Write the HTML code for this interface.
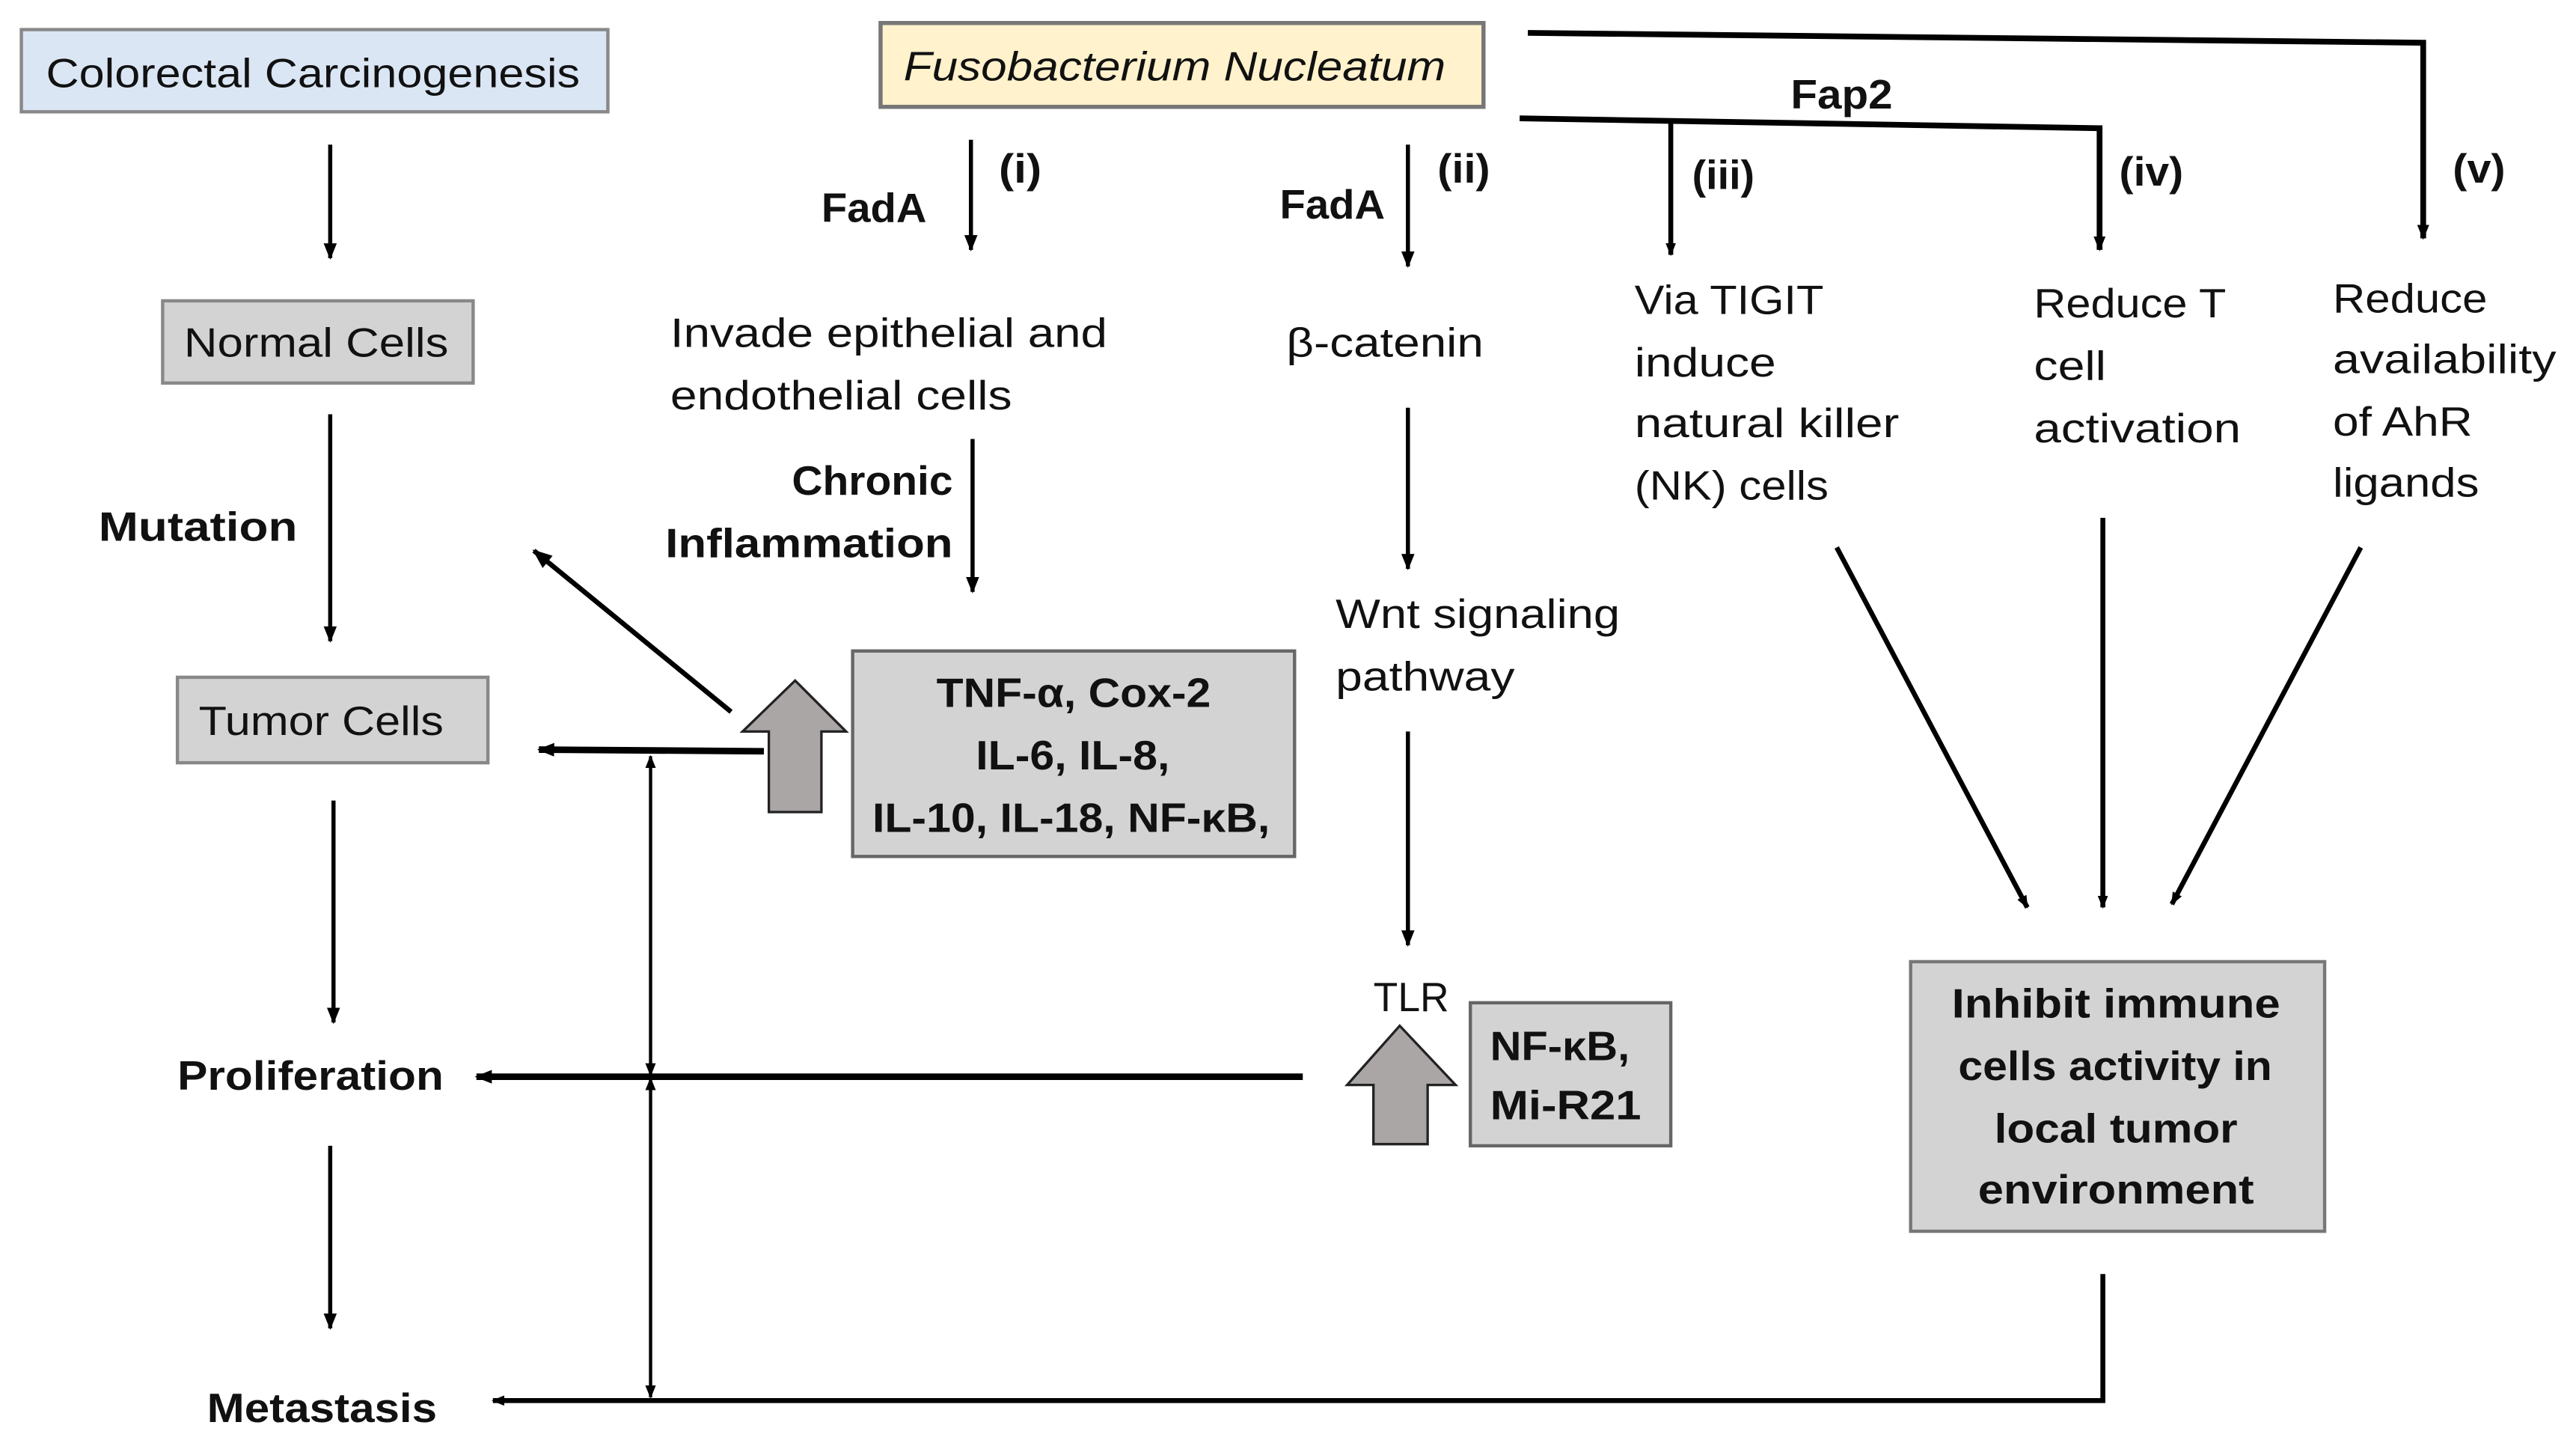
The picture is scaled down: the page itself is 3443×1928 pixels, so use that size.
<!DOCTYPE html>
<html><head><meta charset="utf-8"><style>
html,body{margin:0;padding:0;background:#fff}
svg{display:block}
text{font-family:"Liberation Sans",sans-serif;font-size:25px;fill:#111}
.b{font-weight:bold}
</style></head><body>
<svg width="3443" height="1928" viewBox="0 0 1568 877.8" preserveAspectRatio="none" xmlns="http://www.w3.org/2000/svg">
<defs>
<marker id="a" viewBox="0 0 10 10" refX="9" refY="5" markerWidth="4" markerHeight="4" orient="auto-start-reverse" markerUnits="strokeWidth"><path d="M0,1 L10,5 L0,9 z" fill="#000"/></marker>
<marker id="a2" viewBox="0 0 10 10" refX="9" refY="5" markerWidth="2.6" markerHeight="2.6" orient="auto-start-reverse" markerUnits="strokeWidth"><path d="M0,1 L10,5 L0,9 z" fill="#000"/></marker>
</defs>
<g stroke="#000" fill="none">
<rect x="13" y="18" width="357" height="50" fill="#dae6f4" stroke="#888" stroke-width="2"/>
<rect x="536" y="14" width="367" height="51" fill="#fff2cc" stroke="#777" stroke-width="2.5"/>
<rect x="99" y="183" width="189" height="50" fill="#d3d3d3" stroke="#888" stroke-width="2"/>
<rect x="108" y="412" width="189" height="52" fill="#d3d3d3" stroke="#888" stroke-width="2"/>
<rect x="519" y="396" width="269" height="125" fill="#d3d3d3" stroke="#666" stroke-width="2"/>
<rect x="895" y="610" width="122" height="87" fill="#d3d3d3" stroke="#666" stroke-width="2"/>
<rect x="1163" y="585" width="252" height="164" fill="#d3d3d3" stroke="#777" stroke-width="2"/>
<line x1="201" y1="88" x2="201" y2="157" stroke-width="2.5" marker-end="url(#a)"/>
<line x1="201" y1="252" x2="201" y2="390" stroke-width="2.5" marker-end="url(#a)"/>
<line x1="203" y1="487" x2="203" y2="622" stroke-width="2.5" marker-end="url(#a)"/>
<line x1="201" y1="697" x2="201" y2="808" stroke-width="2.5" marker-end="url(#a)"/>
<line x1="591" y1="85" x2="591" y2="152" stroke-width="2.5" marker-end="url(#a)"/>
<line x1="592" y1="267" x2="592" y2="360" stroke-width="2.5" marker-end="url(#a)"/>
<line x1="445" y1="433" x2="325" y2="335" stroke-width="3" marker-end="url(#a)"/>
<line x1="465" y1="457" x2="328" y2="456" stroke-width="4" marker-end="url(#a2)"/>
<line x1="396" y1="460" x2="396" y2="654" stroke-width="2" marker-start="url(#a)" marker-end="url(#a)"/>
<line x1="396" y1="656" x2="396" y2="850" stroke-width="2" marker-start="url(#a)" marker-end="url(#a)"/>
<line x1="793" y1="655" x2="290" y2="655" stroke-width="4" marker-end="url(#a2)"/>
<polyline points="1280,775 1280,852 300,852" stroke-width="3" marker-end="url(#a2)"/>
<line x1="857" y1="88" x2="857" y2="162" stroke-width="2.5" marker-end="url(#a)"/>
<line x1="857" y1="248" x2="857" y2="346" stroke-width="2.5" marker-end="url(#a)"/>
<line x1="857" y1="445" x2="857" y2="575" stroke-width="2.5" marker-end="url(#a)"/>
<polyline points="930,20 1475,26 1475,145" stroke-width="3.5" marker-end="url(#a2)"/>
<polyline points="925,72 1278,78 1278,152" stroke-width="3.5" marker-end="url(#a2)"/>
<line x1="1017" y1="74" x2="1017" y2="155" stroke-width="3" marker-end="url(#a2)"/>
<line x1="1118" y1="333" x2="1234" y2="552" stroke-width="3" marker-end="url(#a2)"/>
<line x1="1280" y1="315" x2="1280" y2="552" stroke-width="3" marker-end="url(#a2)"/>
<line x1="1437" y1="333" x2="1322" y2="550" stroke-width="3" marker-end="url(#a2)"/>
<path d="M468,494 L468,445 L452,445 L484,414 L515,445 L500,445 L500,494 Z" fill="#aaa6a6" stroke="#222" stroke-width="1.5"/>
<path d="M836,696 L836,660 L820,660 L852,624 L886,660 L869,660 L869,696 Z" fill="#aaa6a6" stroke="#222" stroke-width="1.5"/>
</g>
<text x="28" y="53" textLength="325" lengthAdjust="spacingAndGlyphs">Colorectal Carcinogenesis</text>
<text x="550" y="49" font-style="italic" textLength="330" lengthAdjust="spacingAndGlyphs">Fusobacterium Nucleatum</text>
<text x="112" y="217" textLength="161" lengthAdjust="spacingAndGlyphs">Normal Cells</text>
<text x="121" y="447" textLength="149" lengthAdjust="spacingAndGlyphs">Tumor Cells</text>
<text class="b" x="60" y="329" textLength="121" lengthAdjust="spacingAndGlyphs">Mutation</text>
<text class="b" x="108" y="663" textLength="162" lengthAdjust="spacingAndGlyphs">Proliferation</text>
<text class="b" x="126" y="865" textLength="140" lengthAdjust="spacingAndGlyphs">Metastasis</text>
<text class="b" x="500" y="135" textLength="64" lengthAdjust="spacingAndGlyphs">FadA</text>
<text class="b" x="608" y="111" textLength="26" lengthAdjust="spacingAndGlyphs">(i)</text>
<text x="408" y="211" textLength="266" lengthAdjust="spacingAndGlyphs">Invade epithelial and</text>
<text x="408" y="249" textLength="208" lengthAdjust="spacingAndGlyphs">endothelial cells</text>
<text class="b" x="482" y="301" textLength="98" lengthAdjust="spacingAndGlyphs">Chronic</text>
<text class="b" x="405" y="339" textLength="175" lengthAdjust="spacingAndGlyphs">Inflammation</text>
<text class="b" x="570" y="430" textLength="167" lengthAdjust="spacingAndGlyphs">TNF-α, Cox-2</text>
<text class="b" x="594" y="468" textLength="118" lengthAdjust="spacingAndGlyphs">IL-6, IL-8,</text>
<text class="b" x="531" y="506" textLength="242" lengthAdjust="spacingAndGlyphs">IL-10, IL-18, NF-κB,</text>
<text class="b" x="779" y="133" textLength="64" lengthAdjust="spacingAndGlyphs">FadA</text>
<text class="b" x="875" y="111" textLength="32" lengthAdjust="spacingAndGlyphs">(ii)</text>
<text x="783" y="217" textLength="120" lengthAdjust="spacingAndGlyphs">β-catenin</text>
<text x="813" y="382" textLength="173" lengthAdjust="spacingAndGlyphs">Wnt signaling</text>
<text x="813" y="420" textLength="109" lengthAdjust="spacingAndGlyphs">pathway</text>
<text x="836" y="615" textLength="46" lengthAdjust="spacingAndGlyphs">TLR</text>
<text class="b" x="907" y="645" textLength="85" lengthAdjust="spacingAndGlyphs">NF-κB,</text>
<text class="b" x="907" y="681" textLength="92" lengthAdjust="spacingAndGlyphs">Mi-R21</text>
<text class="b" x="1090" y="66" textLength="62" lengthAdjust="spacingAndGlyphs">Fap2</text>
<text class="b" x="1030" y="115" textLength="38" lengthAdjust="spacingAndGlyphs">(iii)</text>
<text class="b" x="1290" y="113" textLength="39" lengthAdjust="spacingAndGlyphs">(iv)</text>
<text class="b" x="1493" y="111" textLength="32" lengthAdjust="spacingAndGlyphs">(v)</text>
<text x="995" y="191" textLength="115" lengthAdjust="spacingAndGlyphs">Via TIGIT</text>
<text x="995" y="229" textLength="86" lengthAdjust="spacingAndGlyphs">induce</text>
<text x="995" y="266" textLength="161" lengthAdjust="spacingAndGlyphs">natural killer</text>
<text x="995" y="304" textLength="118" lengthAdjust="spacingAndGlyphs">(NK) cells</text>
<text x="1238" y="193" textLength="117" lengthAdjust="spacingAndGlyphs">Reduce T</text>
<text x="1238" y="231" textLength="44" lengthAdjust="spacingAndGlyphs">cell</text>
<text x="1238" y="269" textLength="126" lengthAdjust="spacingAndGlyphs">activation</text>
<text x="1420" y="190" textLength="94" lengthAdjust="spacingAndGlyphs">Reduce</text>
<text x="1420" y="227" textLength="136" lengthAdjust="spacingAndGlyphs">availability</text>
<text x="1420" y="265" textLength="85" lengthAdjust="spacingAndGlyphs">of AhR</text>
<text x="1420" y="302" textLength="89" lengthAdjust="spacingAndGlyphs">ligands</text>
<text class="b" x="1188" y="619" textLength="200" lengthAdjust="spacingAndGlyphs">Inhibit immune</text>
<text class="b" x="1192" y="657" textLength="191" lengthAdjust="spacingAndGlyphs">cells activity in</text>
<text class="b" x="1214" y="695" textLength="148" lengthAdjust="spacingAndGlyphs">local tumor</text>
<text class="b" x="1204" y="732" textLength="168" lengthAdjust="spacingAndGlyphs">environment</text>
</svg>
</body></html>
